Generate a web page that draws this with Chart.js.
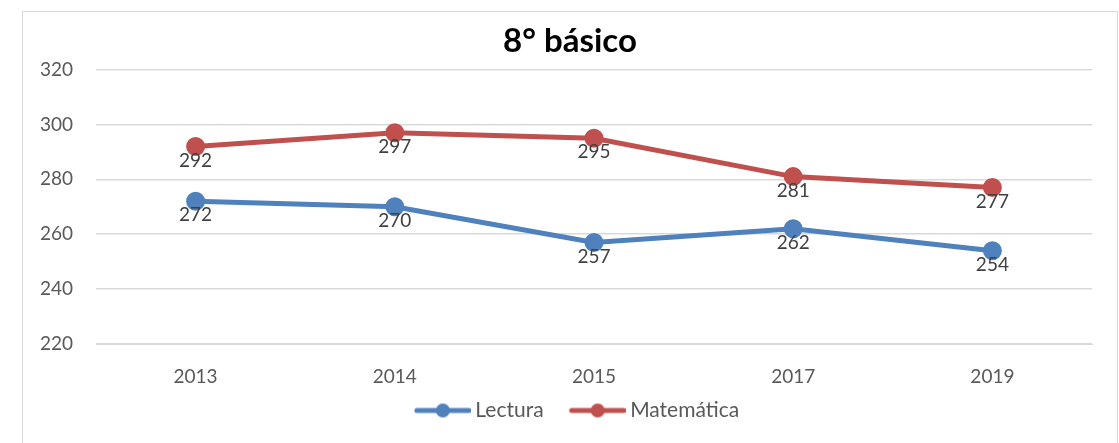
<!DOCTYPE html>
<html>
<head>
<meta charset="utf-8">
<script src="https://cdn.jsdelivr.net/npm/chart.js@4.4.0/dist/chart.umd.min.js"></script>
<style>
    body { margin: 0; background: #fff; }
    .chart-box {
        position: absolute;
        left: 22px;
        top: 11px;
        width: 1094px;
        height: 440px;
        border: 1px solid #d9d9d9;
    }
    canvas { display: block; }
</style>
</head>
<body>
<div class="chart-box">
    <canvas id="scoreChart" width="1094" height="432"></canvas>
</div>
<script>
// Chart data
const years = ['2013', '2014', '2015', '2017', '2019'];
const lectura = [272, 270, 257, 262, 254];
const matematica = [292, 297, 295, 281, 277];
const yTicks = [220, 240, 260, 280, 300, 320];

const blue = '#4f81bd';
const red = '#c0504d';
const fontFamily = 'Lato, "Open Sans", sans-serif';

// Legend marker: line with a dot in the middle
function legendMarker(color) {
    const c = document.createElement('canvas');
    c.width = 76;
    c.height = 16;
    const ctx = c.getContext('2d');
    ctx.strokeStyle = color;
    ctx.lineWidth = 5;
    ctx.lineCap = 'round';
    ctx.beginPath();
    ctx.moveTo(22, 8);
    ctx.lineTo(74, 8);
    ctx.stroke();
    ctx.fillStyle = color;
    ctx.beginPath();
    ctx.arc(48, 8, 7, 0, Math.PI * 2);
    ctx.fill();
    return c;
}

// Value labels under each point
const valueLabels = {
    id: 'valueLabels',
    afterDatasetsDraw(chart) {
        const ctx = chart.ctx;
        ctx.save();
        ctx.font = '19px ' + fontFamily;
        ctx.fillStyle = '#404040';
        ctx.textAlign = 'center';
        ctx.textBaseline = 'middle';
        chart.data.datasets.forEach((ds, i) => {
            chart.getDatasetMeta(i).data.forEach((pt, j) => {
                ctx.fillText(ds.data[j], pt.x, pt.y + 14);
            });
        });
        ctx.restore();
    }
};

const ctx = document.getElementById('scoreChart').getContext('2d');
new Chart(ctx, {
    type: 'line',
    data: {
        labels: years,
        datasets: [{
            label: 'Lectura',
            data: lectura,
            borderColor: blue,
            backgroundColor: blue,
            borderWidth: 5,
            pointRadius: 7,
            pointHoverRadius: 7,
            tension: 0
        }, {
            label: 'Matemática',
            data: matematica,
            borderColor: red,
            backgroundColor: red,
            borderWidth: 5,
            pointRadius: 7,
            pointHoverRadius: 7,
            tension: 0
        }]
    },
    options: {
        responsive: false,
        animation: false,
        layout: {
            padding: { left: 0, right: 0, top: 0, bottom: 13 }
        },
        plugins: {
            title: {
                display: true,
                text: '8° básico',
                color: '#000',
                font: { family: fontFamily, size: 33, weight: 'bold' },
                padding: { top: 10, bottom: 8 }
            },
            legend: {
                position: 'bottom',
                labels: {
                    usePointStyle: true,
                    pointStyleWidth: 64,
                    padding: 12,
                    color: '#595959',
                    font: { family: fontFamily, size: 21 },
                    generateLabels(chart) {
                        return chart.data.datasets.map((ds, i) => ({
                            text: ds.label,
                            pointStyle: legendMarker(ds.borderColor),
                            fillStyle: ds.borderColor,
                            strokeStyle: ds.borderColor,
                            lineWidth: 0,
                            fontColor: '#595959',
                            datasetIndex: i
                        }));
                    }
                }
            },
            tooltip: { enabled: false }
        },
        scales: {
            x: {
                offset: true,
                afterFit(scale) { scale.height = 44; },
                grid: { display: false, drawTicks: false },
                border: { color: '#d9d9d9', width: 1 },
                ticks: {
                    color: '#595959',
                    padding: 21,
                    font: { family: fontFamily, size: 19 }
                }
            },
            y: {
                min: 220,
                max: 320,
                afterFit(scale) { scale.width = 73; },
                afterBuildTicks(scale) {
                    scale.ticks = yTicks.map(v => ({ value: v }));
                },
                grid: { color: '#d9d9d9', lineWidth: 1.5, drawTicks: false },
                border: { display: false },
                ticks: {
                    color: '#595959',
                    padding: 23,
                    font: { family: fontFamily, size: 19 }
                }
            },
            // empty right axis, only keeps the margin so the title stays centred
            yRight: {
                position: 'right',
                afterFit(scale) { scale.width = 25; },
                grid: { display: false, drawTicks: false },
                border: { display: false },
                ticks: { display: false }
            }
        }
    },
    plugins: [valueLabels]
});
</script>
</body>
</html>
